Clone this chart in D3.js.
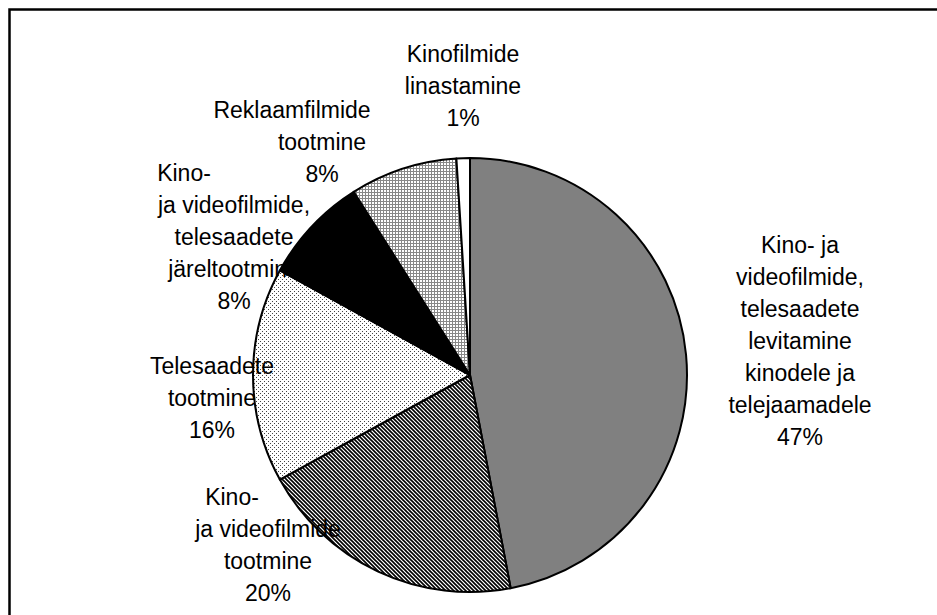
<!DOCTYPE html>
<html>
<head>
<meta charset="utf-8">
<script src="https://cdn.jsdelivr.net/npm/d3@7"></script>
<style>
  html, body { margin: 0; padding: 0; background: #fff; }
  svg { display: block; }
</style>
</head>
<body>
<div id="chart"></div>
<script>
// slices, clockwise from 12 o'clock
const categories = [
  "Kino- ja videofilmide, telesaadete levitamine kinodele ja telejaamadele",
  "Kino- ja videofilmide tootmine",
  "Telesaadete tootmine",
  "Kino- ja videofilmide, telesaadete järeltootmine",
  "Reklaamfilmide tootmine",
  "Kinofilmide linastamine"
]
const values = [47, 20, 16, 8, 8, 1]
// label lines as wrapped in the picture
const labelLines = [
  ["Kino- ja", "videofilmide,", "telesaadete", "levitamine", "kinodele ja", "telejaamadele"],
  ["Kino-", "ja videofilmide", "tootmine"],
  ["Telesaadete", "tootmine"],
  ["Kino-", "ja videofilmide,", "telesaadete", "järeltootmine"],
  ["Reklaamfilmide", "tootmine"],
  ["Kinofilmide", "linastamine"]
]
const fills = ["#808080", "url(#hatch)", "url(#dots)", "#000000", "url(#grid)", "#ffffff"]

const width = 937, height = 615
const cx = 470, cy = 375, radius = 217
const lineH = 32

// label block placement: x centre, y of first line, shift of first line
const labelLayout = [
  { x: 800, y: 245, first: 0 },
  { x: 268, y: 497, first: -36 },
  { x: 212, y: 366, first: 0 },
  { x: 234, y: 173, first: -50 },
  { x: 322, y: 110, first: -30 },
  { x: 463, y: 54, first: 0 }
]

const svg = d3.select("#chart").append("svg")
  .attr("width", width)
  .attr("height", height)

const defs = svg.append("defs")

// diagonal hatching
const hatch = defs.append("pattern")
  .attr("id", "hatch")
  .attr("patternUnits", "userSpaceOnUse")
  .attr("width", 4).attr("height", 4)
hatch.append("rect").attr("width", 4).attr("height", 4).attr("fill", "#fff")
hatch.append("path")
  .attr("d", "M-1,3 l2,2 M0,0 l4,4 M3,-1 l2,2")
  .attr("stroke", "#000")
  .attr("stroke-width", 1.6)

// sparse dots
const dots = defs.append("pattern")
  .attr("id", "dots")
  .attr("patternUnits", "userSpaceOnUse")
  .attr("width", 4).attr("height", 4)
dots.append("rect").attr("width", 4).attr("height", 4).attr("fill", "#fff")
dots.append("rect").attr("x", 0).attr("y", 0).attr("width", 1).attr("height", 1).attr("fill", "#444")
dots.append("rect").attr("x", 2).attr("y", 2).attr("width", 1).attr("height", 1).attr("fill", "#444")

// small grid
const grid = defs.append("pattern")
  .attr("id", "grid")
  .attr("patternUnits", "userSpaceOnUse")
  .attr("width", 3).attr("height", 3)
grid.append("rect").attr("width", 3).attr("height", 3).attr("fill", "#fff")
grid.append("rect").attr("x", 0).attr("y", 0).attr("width", 3).attr("height", 1).attr("fill", "#888")
grid.append("rect").attr("x", 0).attr("y", 0).attr("width", 1).attr("height", 3).attr("fill", "#888")

// frame (only top and left edges visible)
svg.append("path")
  .attr("d", `M9.5,${height + 5} V9.5 H${width + 5}`)
  .attr("fill", "none")
  .attr("stroke", "#000")
  .attr("stroke-width", 2.5)

const pie = d3.pie().sort(null).value(d => d)
const arcs = pie(values)
const arc = d3.arc().innerRadius(0).outerRadius(radius)

const g = svg.append("g")
  .attr("transform", `translate(${cx},${cy})`)

g.selectAll("path.slice")
  .data(arcs)
  .join("path")
  .attr("class", "slice")
  .attr("d", arc)
  .attr("fill", (d, i) => fills[i])
  .attr("stroke", "#000")
  .attr("stroke-width", 2)
  .attr("stroke-linejoin", "round")
  .append("title")
  .text((d, i) => categories[i])

const labels = svg.append("g")
  .attr("font-family", "'Liberation Sans', Arial, sans-serif")
  .attr("font-size", 23)
  .attr("fill", "#000")
  .attr("text-anchor", "middle")

labels.selectAll("text")
  .data(arcs)
  .join("text")
  .each(function (d, i) {
    const lay = labelLayout[i]
    const lines = labelLines[i].concat([d3.format(".0f")(d.data) + "%"])
    const t = d3.select(this)
    lines.forEach((s, k) => {
      t.append("tspan")
        .attr("x", lay.x + (k === 0 ? lay.first : 0))
        .attr("y", lay.y + k * lineH)
        .attr("dy", "0.35em")
        .text(s)
    })
  })
</script>
</body>
</html>
